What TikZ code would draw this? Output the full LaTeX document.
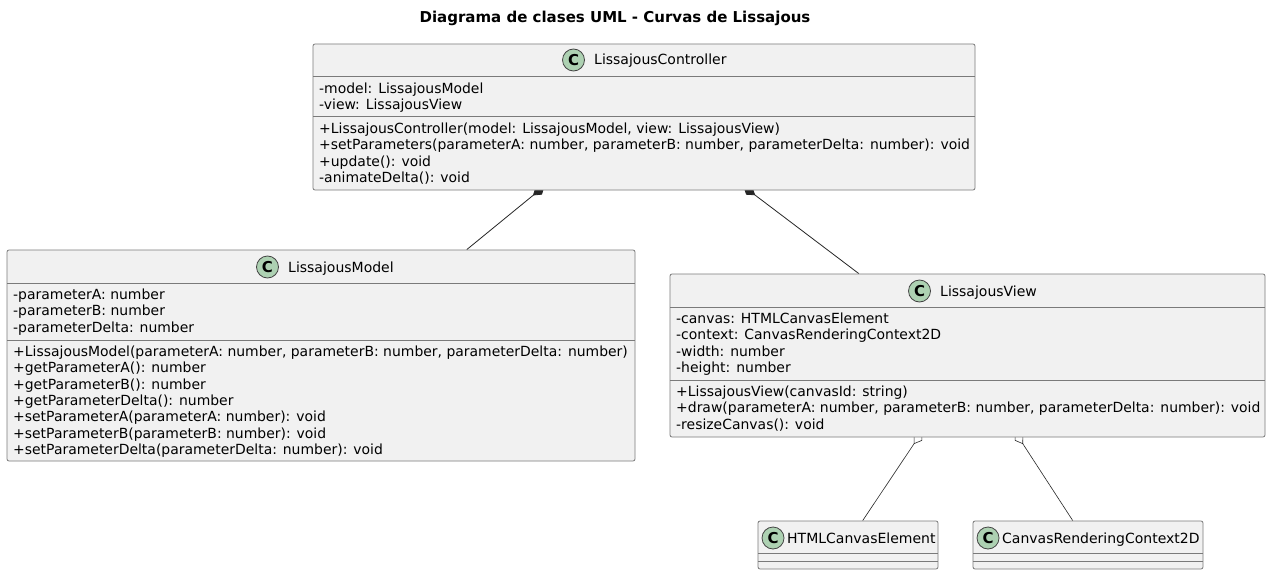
\documentclass[tikz,border=0pt]{standalone}
\usepackage{fontspec}
\setmainfont{DejaVu Sans}
\usetikzlibrary{arrows.meta,backgrounds}
\definecolor{classfill}{HTML}{F1F1F1}
\definecolor{classline}{HTML}{7A7A7A}
\definecolor{spotfill}{HTML}{ADD1B2}
\definecolor{spotline}{HTML}{444444}

\begin{document}
\begin{tikzpicture}[
    x=1pt, y=-1pt,
    classbox/.style={rectangle, draw=classline, fill=classfill, rounded corners=2pt, line width=0.8pt, inner sep=0pt},
    spot/.style={circle, draw=spotline, fill=spotfill, line width=0.8pt, minimum size=22pt, inner sep=0pt, font=\fontsize{15}{15}\selectfont\bfseries},
    classname/.style={anchor=base west, inner sep=0pt, font=\fontsize{14}{14}\selectfont},
    members/.style={anchor=north west, inner sep=0pt, align=left, font=\fontsize{13.95}{16.4}\selectfont},
    sepline/.style={draw=classline, line width=0.8pt},
    composed/.style={{Diamond[length=15pt,width=10pt]}-, black!85, line width=0.8pt, shorten <=-7pt},
    aggregated/.style={{Diamond[open,length=15pt,width=10pt]}-, black!85, line width=0.6pt, shorten <=-7pt}
]
\useasboundingbox (0,0) rectangle (1271,575);

\node[inner sep=0pt, font=\fontsize{15}{15}\selectfont\bfseries] (title) at (615,18) {Diagrama de clases UML - Curvas de Lissajous};

% Class boxes
\node[classbox, minimum width=662pt, minimum height=146pt] (controller) at (644,117) {};
\node[classbox, minimum width=628pt, minimum height=211pt] (model) at (321,355.5) {};
\node[classbox, minimum width=595pt, minimum height=163pt] (view) at (967.5,355.5) {};
\node[classbox, minimum width=180pt, minimum height=48pt] (canvaselem) at (848,545) {};
\node[classbox, minimum width=230pt, minimum height=48pt] (context) at (1088,545) {};

% LissajousController
\node[spot] (controllerspot) at (573.5,60) {C};
\node[classname] (controllername) at (594,65) {LissajousController};
\draw[sepline] (313,76) -- (975,76);
\draw[sepline] (313,116) -- (975,116);
\node[members] (controllerattrs) at (319,82.5) {-model: LissajousModel\\-view: LissajousView};
\node[members] (controllerops) at (319,122.5) {+LissajousController(model: LissajousModel, view: LissajousView)\\+setParameters(parameterA: number, parameterB: number, parameterDelta: number): void\\+update(): void\\-animateDelta(): void};

% LissajousModel
\node[spot] (modelspot) at (267.5,267) {C};
\node[classname] (modelname) at (288,272) {LissajousModel};
\draw[sepline] (7,283) -- (635,283);
\draw[sepline] (7,340) -- (635,340);
\node[members] (modelattrs) at (13,288.5) {-parameterA: number\\-parameterB: number\\-parameterDelta: number};
\node[members] (modelops) at (13,345.5) {+LissajousModel(parameterA: number, parameterB: number, parameterDelta: number)\\+getParameterA(): number\\+getParameterB(): number\\+getParameterDelta(): number\\+setParameterA(parameterA: number): void\\+setParameterB(parameterB: number): void\\+setParameterDelta(parameterDelta: number): void};

% LissajousView
\node[spot] (viewspot) at (919.5,291) {C};
\node[classname] (viewname) at (940,296) {LissajousView};
\draw[sepline] (670,307) -- (1265,307);
\draw[sepline] (670,380) -- (1265,380);
\node[members] (viewattrs) at (676,312.5) {-canvas: HTMLCanvasElement\\-context: CanvasRenderingContext2D\\-width: number\\-height: number};
\node[members] (viewops) at (676,385.5) {+LissajousView(canvasId: string)\\+draw(parameterA: number, parameterB: number, parameterDelta: number): void\\-resizeCanvas(): void};

% HTMLCanvasElement
\node[spot] (canvaselemspot) at (773,538) {C};
\node[classname] (canvaselemname) at (787,543) {HTMLCanvasElement};
\draw[sepline] (758,553) -- (938,553);
\draw[sepline] (758,561) -- (938,561);

% CanvasRenderingContext2D
\node[spot] (contextspot) at (988,538) {C};
\node[classname] (contextname) at (1002,543) {CanvasRenderingContext2D};
\draw[sepline] (973,553) -- (1203,553);
\draw[sepline] (973,561) -- (1203,561);

% Relations, behind the boxes so the diamonds are cut by the box edge
\begin{scope}[on background layer]
\fill[white] (0,0) rectangle (1271,575);
\draw[composed] (controller.-145) -- (model.36.6);
\draw[composed] (controller.-35.3) -- (view.143.1);
\draw[aggregated] (view.-121.8) -- (canvaselem.59.2);
\draw[aggregated] (view.-58.7) -- (context.122.6);
\end{scope}
\end{tikzpicture}
\end{document}
